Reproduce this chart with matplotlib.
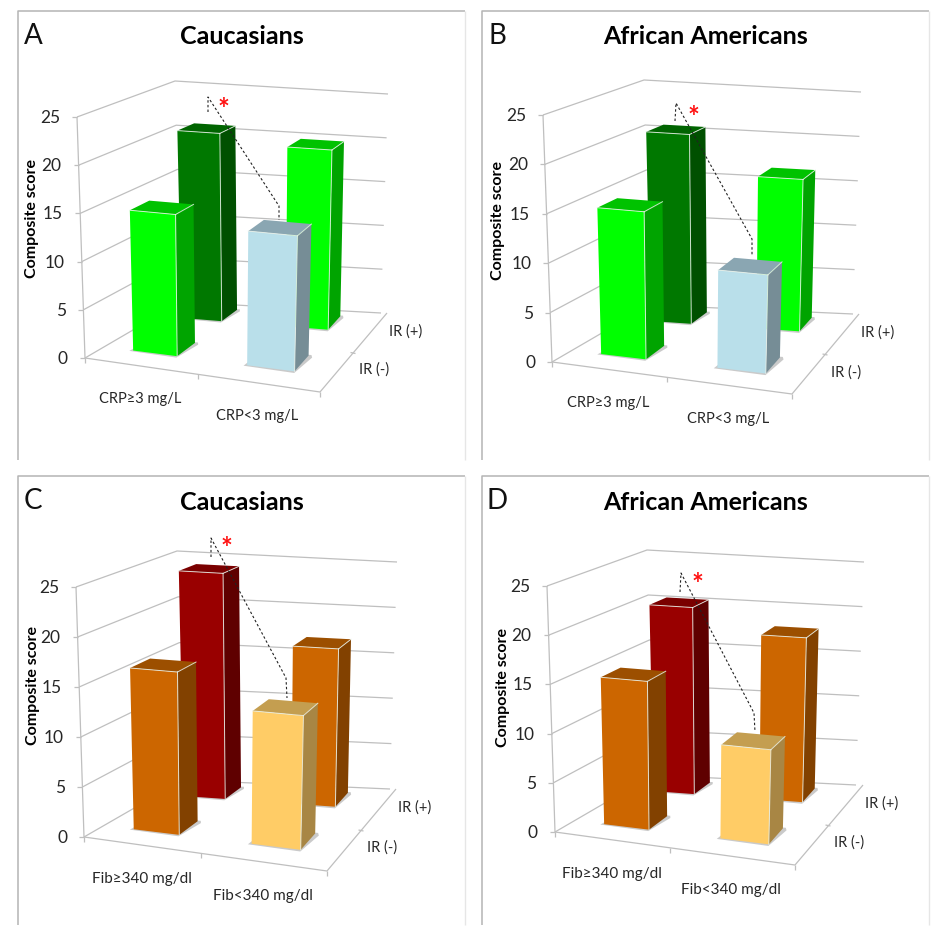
import matplotlib
matplotlib.use("Agg")
import matplotlib.pyplot as plt
from matplotlib.patches import Polygon

plt.rcParams['font.family'] = ['Lato', 'DejaVu Sans']

W, H = 946, 933
ZMAX = 25
z_ticks = [0, 5, 10, 15, 20, 25]

letters = ['A', 'B', 'C', 'D']
titles = ['Caucasians', 'African Americans', 'Caucasians', 'African Americans']
y_label = 'Composite score'
series_labels = ['IR (-)', 'IR (+)']
crp_labels = ['CRP≥3 mg/L', 'CRP<3 mg/L']
fib_labels = ['Fib≥340 mg/dl', 'Fib<340 mg/dl']
cat_labels = [crp_labels, crp_labels, fib_labels, fib_labels]

# composite score: [high marker, low marker] for each IR group
ir_neg_A = [14.7, 13.7]
ir_pos_A = [20.7, 19.7]
ir_neg_B = [15.0, 9.8]
ir_pos_B = [20.5, 16.4]
ir_neg_C = [16.3, 13.1]
ir_pos_C = [24.0, 16.7]
ir_neg_D = [15.1, 9.4]
ir_pos_D = [20.2, 17.7]
ir_neg = [ir_neg_A, ir_neg_B, ir_neg_C, ir_neg_D]
ir_pos = [ir_pos_A, ir_pos_B, ir_pos_C, ir_pos_D]

GREEN = ('#00ff00', '#00a400', '#00c200')
DGREEN = ('#007800', '#005000', '#006400')
BLUE = ('#b9dfea', '#768d96', '#8aa6b2')
ORANGE = ('#cc6600', '#824100', '#9c4f00')
RED = ('#990000', '#5f0000', '#7a0000')
YELLOW = ('#ffcc66', '#a88644', '#c49e50')
palette = [
    (GREEN, DGREEN, BLUE, GREEN),
    (GREEN, DGREEN, BLUE, GREEN),
    (ORANGE, RED, YELLOW, ORANGE),
    (ORANGE, RED, YELLOW, ORANGE),
]

# layout: panel frame and the 8 projected corners of the 3-D plot box (in figure pixels)
frames = [(18, 11, 465, 460), (482, 11, 929, 460), (18, 476, 465, 925), (482, 476, 929, 925)]
boxes = [
    dict(FL0=(85, 358), FL1=(77, 117), FR0=(320, 392), FR1=(328, 135),
         BL0=(181, 302), BL1=(175, 81), BR0=(381, 313), BR1=(388, 94), tip=(387, 313)),
    dict(FL0=(552, 362), FL1=(543, 115), FR0=(792, 394), FR1=(800, 133),
         BL0=(650, 305), BL1=(644, 80), BR0=(853, 314), BR1=(861, 92), tip=(859, 314)),
    dict(FL0=(84, 837), FL1=(76, 587), FR0=(327, 871), FR1=(335, 605),
         BL0=(183, 780), BL1=(177, 551), BR0=(390, 789), BR1=(397, 562), tip=(396, 789)),
    dict(FL0=(555, 832), FL1=(547, 586), FR0=(795, 865), FR1=(803, 604),
         BL0=(653, 775), BL1=(647, 550), BR0=(856, 785), BR1=(864, 562), tip=(863, 785)),
]
brackets = [
    [(208, 112), (208, 97), (279, 206), (279, 220)],
    [(675, 121), (676, 103), (752, 239), (752, 256)],
    [(211, 557), (211, 538), (286, 678), (287, 698)],
    [(680, 592), (681, 573), (754, 713), (755, 732)],
]
stars = [(223, 110), (693, 118), (226, 549), (697, 585)]
letter_pos = [(33, 36), (497, 36), (33, 501), (497, 501)]
title_pos = [(242, 36), (706, 36), (242, 502), (706, 502)]
ylabel_pos = [(32, 219), (498, 220), (33, 685), (503, 687)]
cat_pos = [[(140, 399), (257, 416)], [(608, 403), (728, 419)],
           [(142, 879), (263, 896)], [(612, 874), (731, 890)]]
ser_pos = [[(374, 370), (406, 332)], [(846, 373), (878, 333)],
           [(382, 848), (415, 808)], [(849, 843), (882, 804)]]
U_FRONT = [(0.127, 0.32), (0.627, 0.835)]
U_BACK = [(0.117, 0.31), (0.617, 0.82)]
D_FRONT = (0.20, 0.41)
D_BACK = (0.75, 0.93)
GRID = '#bfbfbf'


def project(box, u, d, z):
    """Trilinear projection of (category fraction, depth fraction, value) to pixels."""
    v = z / ZMAX
    out = []
    for k in (0, 1):
        a = (1 - u) * ((1 - v) * box['FL0'][k] + v * box['FL1'][k]) + u * ((1 - v) * box['FR0'][k] + v * box['FR1'][k])
        b = (1 - u) * ((1 - v) * box['BL0'][k] + v * box['BL1'][k]) + u * ((1 - v) * box['BR0'][k] + v * box['BR1'][k])
        out.append((1 - d) * a + d * b)
    return tuple(out)


def line(ax, pts, color=GRID, lw=0.9, **kw):
    ax.plot([p[0] for p in pts], [p[1] for p in pts], color=color, lw=lw,
            solid_capstyle='butt', clip_on=False, **kw)


def draw_bar(ax, box, us, ds, value, cols):
    u0, u1 = us
    d0, d1 = ds
    P = lambda u, d, z: project(box, u, d, z)
    # shadow on the floor
    shadow = [P(u0 - 0.012, d0 - 0.012, 0), P(u1 + 0.004, d0 - 0.02, 0),
              P(u1 + 0.022, d1 - 0.02, 0), P(u1 + 0.01, d1 + 0.01, 0), P(u0, d1, 0)]
    ax.add_patch(Polygon(shadow, closed=True, fc='#bdbdbd', ec='none', alpha=0.8, zorder=3))
    front = [P(u0, d0, 0), P(u1, d0, 0), P(u1, d0, value), P(u0, d0, value)]
    side = [P(u1, d0, 0), P(u1, d1, 0), P(u1, d1, value), P(u1, d0, value)]
    top = [P(u0, d0, value), P(u1, d0, value), P(u1, d1, value), P(u0, d1, value)]
    ax.add_patch(Polygon(side, closed=True, fc=cols[1], ec='none', zorder=3))
    ax.add_patch(Polygon(top, closed=True, fc=cols[2], ec='none', zorder=3))
    ax.add_patch(Polygon(front, closed=True, fc=cols[0], ec='none', zorder=3))
    edge = '#e8f0e8'
    for a, b in ((front[3], front[2]), (front[2], front[1]), (front[2], top[2])):
        ax.plot([a[0], b[0]], [a[1], b[1]], color=edge, lw=0.7, zorder=3, alpha=0.85)


fig = plt.figure(figsize=(W / 100, H / 100), dpi=100, facecolor='white')

for i in range(4):
    x0, y0, x1, y1 = frames[i]
    ax = fig.add_axes([x0 / W, 1 - y1 / H, (x1 - x0) / W, (y1 - y0) / H])
    ax.set_xlim(x0, x1)
    ax.set_ylim(y1, y0)
    ax.axis('off')
    box = boxes[i]

    # panel frame (no bottom line)
    line(ax, [(x0, y1), (x0, y0), (x1, y0)], color='#b4b4b4', lw=1.1)
    line(ax, [(x1, y0), (x1, y1)], color='#e6e6e6', lw=1.0)

    # walls
    for z in z_ticks:
        fl, bl, br = project(box, 0, 0, z), project(box, 0, 1, z), project(box, 1, 1, z)
        line(ax, [fl, bl, br])
        line(ax, [(fl[0] - 5, fl[1]), fl])
        ax.text(fl[0] - 17, fl[1] + 1, str(z), ha='right', va='center', fontsize=12.5, color='#262626')
    line(ax, [project(box, 0, 0, 0), project(box, 0, 0, ZMAX)])
    line(ax, [project(box, 0, 0, 0), box['FR0'], box['tip']])
    # axis ticks
    for u in (0, 0.48, 1):
        p = project(box, u, 0, 0)
        line(ax, [p, (p[0], p[1] + 5)])
    p = project(box, 1, 0.5, 0)
    line(ax, [p, (p[0] + 5, p[1] + 1)])

    # bars, back row first
    c = palette[i]
    draw_bar(ax, box, U_BACK[0], D_BACK, ir_pos[i][0], c[1])
    draw_bar(ax, box, U_BACK[1], D_BACK, ir_pos[i][1], c[3])
    draw_bar(ax, box, U_FRONT[0], D_FRONT, ir_neg[i][0], c[0])
    draw_bar(ax, box, U_FRONT[1], D_FRONT, ir_neg[i][1], c[2])

    # significance bracket
    ax.plot([p[0] for p in brackets[i]], [p[1] for p in brackets[i]], color='#222222', lw=0.8,
            linestyle=(0, (2.2, 2.0)), zorder=4)
    ax.text(stars[i][0], stars[i][1], '*', color='#ff1010', fontsize=20, fontweight='bold',
            ha='center', va='center', zorder=5)

    # text
    ax.text(*letter_pos[i], letters[i], fontsize=20, ha='center', va='center', color='#111111')
    ax.text(*title_pos[i], titles[i], fontsize=18, fontweight='bold', ha='center', va='center', color='black')
    ax.text(*ylabel_pos[i], y_label, fontsize=11.5, fontweight='bold', rotation=90, ha='center', va='center', color='black')
    cat_size = 10.5 if i < 2 else 11
    for lab, pos in zip(cat_labels[i], cat_pos[i]):
        ax.text(*pos, lab, fontsize=cat_size, ha='center', va='center', color='#262626')
    for lab, pos in zip(series_labels, ser_pos[i]):
        ax.text(*pos, lab, fontsize=10.5, ha='center', va='center', color='#262626')

fig.savefig('out.png', dpi=100)
